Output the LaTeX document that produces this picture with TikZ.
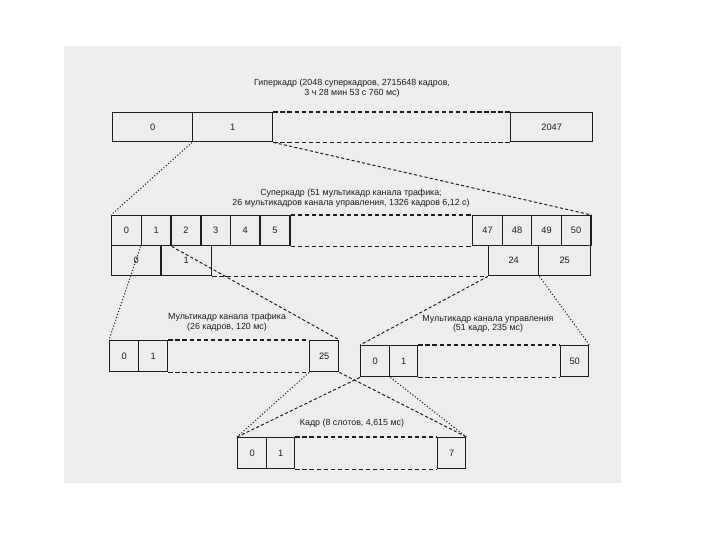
\documentclass[tikz,border=0pt]{standalone}
\usepackage{fontspec}
\setmainfont{Liberation Sans}
\usepackage{xcolor}
\definecolor{ink}{HTML}{1E1E1E}
\definecolor{paper}{HTML}{EDEDED}

\begin{document}
\begin{tikzpicture}[x=0.025cm, y=-0.025cm]
  % one unit = one pixel of the 720x540 page, y running down
  \useasboundingbox (0,0) rectangle (720,540);
  \fill[paper] (64,46) rectangle (621,483);
  \tikzset{
    cell/.style={draw=ink, line width=1pt, fill=paper, anchor=north west,
                 inner sep=0pt, font=\fontsize{6.6}{7}\selectfont, text=ink},
    caption/.style={align=center, inner sep=0pt,
                    font=\fontsize{6.3}{5.8}\selectfont, text=ink},
    gapline/.style={draw=ink, line width=1.1pt, dash pattern=on 3pt off 2pt},
    fandot/.style={draw=ink, line width=0.7pt, dash pattern=on 0.8pt off 1.4pt},
    fandash/.style={draw=ink, line width=0.7pt, dash pattern=on 2.2pt off 1.6pt}}

  % ========== hyperframe =================================================
  \node[caption] (hyperlab) at (352,88)
    {Гиперкадр (2048 суперкадров, 2715648 кадров,\\3 ч 28 мин 53 с 760 мс)};
  \node[cell, minimum width=2cm,    minimum height=0.725cm] (h0)    at (112,112) {0};
  \node[cell, minimum width=2cm,    minimum height=0.725cm] (h1)    at (192,112) {1};
  \node[cell, minimum width=2.05cm, minimum height=0.725cm] (h2047) at (510,112) {2047};
  \draw[gapline] (h1.north east) -- (h2047.north west);
  \draw[gapline] (h1.south east) -- (h2047.south west);

  % ========== superframe: 51 traffic / 26 control multiframes ============
  \node[caption] (superlab) at (351,198)
    {Суперкадр (51 мультикадр канала трафика;\\26 мультикадров канала управления, 1326 кадров 6,12 с)};
  % top row
  \foreach \n/\xx in {0/111, 1/140.7, 2/170.4, 3/200.1, 4/229.8, 5/259.5,
                      47/472, 48/501.5, 49/531, 50/560.5}
    \node[cell, minimum width=0.74cm, minimum height=0.75cm] (t\n) at (\xx,215) {\n};
  \draw[gapline] (t5.north east) -- (t47.north west);
  \draw[gapline] (t5.south east) -- (t47.south west);
  % bottom row
  \node[cell, minimum width=1.23cm, minimum height=0.75cm] (c0)  at (111,245) {0};
  \node[cell, minimum width=1.27cm, minimum height=0.75cm] (c1)  at (160.2,245) {1};
  \node[cell, minimum width=1.25cm, minimum height=0.75cm] (c24) at (488,245) {24};
  \node[cell, minimum width=1.3cm,  minimum height=0.75cm] (c25) at (538,245) {25};
  \draw[gapline] (c1.south east) -- (c24.south west);

  % hyperframe 1 opens out into the superframe
  \draw[fandot]  (h1.south west) -- (t0.north west);
  \draw[fandash] (h1.south east) -- (t50.north east);

  % ========== traffic multiframe =========================================
  \node[caption] (traflab) at (227,322)
    {Мультикадр канала трафика\\(26 кадров, 120 мс)};
  \node[cell, minimum width=0.725cm, minimum height=0.775cm] (m0)  at (109,340) {0};
  \node[cell, minimum width=0.725cm, minimum height=0.775cm] (m1)  at (138,340) {1};
  \node[cell, minimum width=0.725cm, minimum height=0.775cm] (m25) at (309,340) {25};
  \draw[gapline] (m1.north east) -- (m25.north west);
  \draw[gapline] (m1.south east) -- (m25.south west);

  % ========== control multiframe =========================================
  \node[caption] (ctrllab) at (488,324)
    {Мультикадр канала управления\\(51 кадр, 235 мс)};
  \node[cell, minimum width=0.725cm, minimum height=0.775cm] (k0)  at (360,345) {0};
  \node[cell, minimum width=0.7cm,   minimum height=0.775cm] (k1)  at (389,345) {1};
  \node[cell, minimum width=0.7cm,   minimum height=0.775cm] (k50) at (560,345) {50};
  \draw[gapline] (k1.north east) -- (k50.north west);
  \draw[gapline] (k1.south east) -- (k50.south west);

  % superframe cells open out into the two multiframes
  \draw[fandot]  (t1.south west)  -- (m0.north west);
  \draw[fandash] (t1.south east)  -- (m25.north east);
  \draw[fandash] (c24.south west) -- (k0.north west);
  \draw[fandot]  (c24.south east) -- (k50.north east);

  % ========== frame ========================================================
  \node[caption] (framelab) at (352,423) {Кадр (8 слотов, 4,615 мс)};
  \node[cell, minimum width=0.725cm, minimum height=0.775cm] (f0) at (237,437) {0};
  \node[cell, minimum width=0.7cm,   minimum height=0.775cm] (f1) at (266,437) {1};
  \node[cell, minimum width=0.7cm,   minimum height=0.775cm] (f7) at (437,437) {7};
  \draw[gapline] (f1.north east) -- (f7.north west);
  \draw[gapline] (f1.south east) -- (f7.south west);

  % both multiframes open out into one frame, the lines crossing
  \draw[fandot]  (m25.south west) -- (f0.north west);
  \draw[fandash] (m25.south east) -- (f7.north east);
  \draw[fandash] (k0.south west)  -- (f0.north west);
  \draw[fandot]  (k0.south east)  -- (f7.north east);
\end{tikzpicture}
\end{document}
